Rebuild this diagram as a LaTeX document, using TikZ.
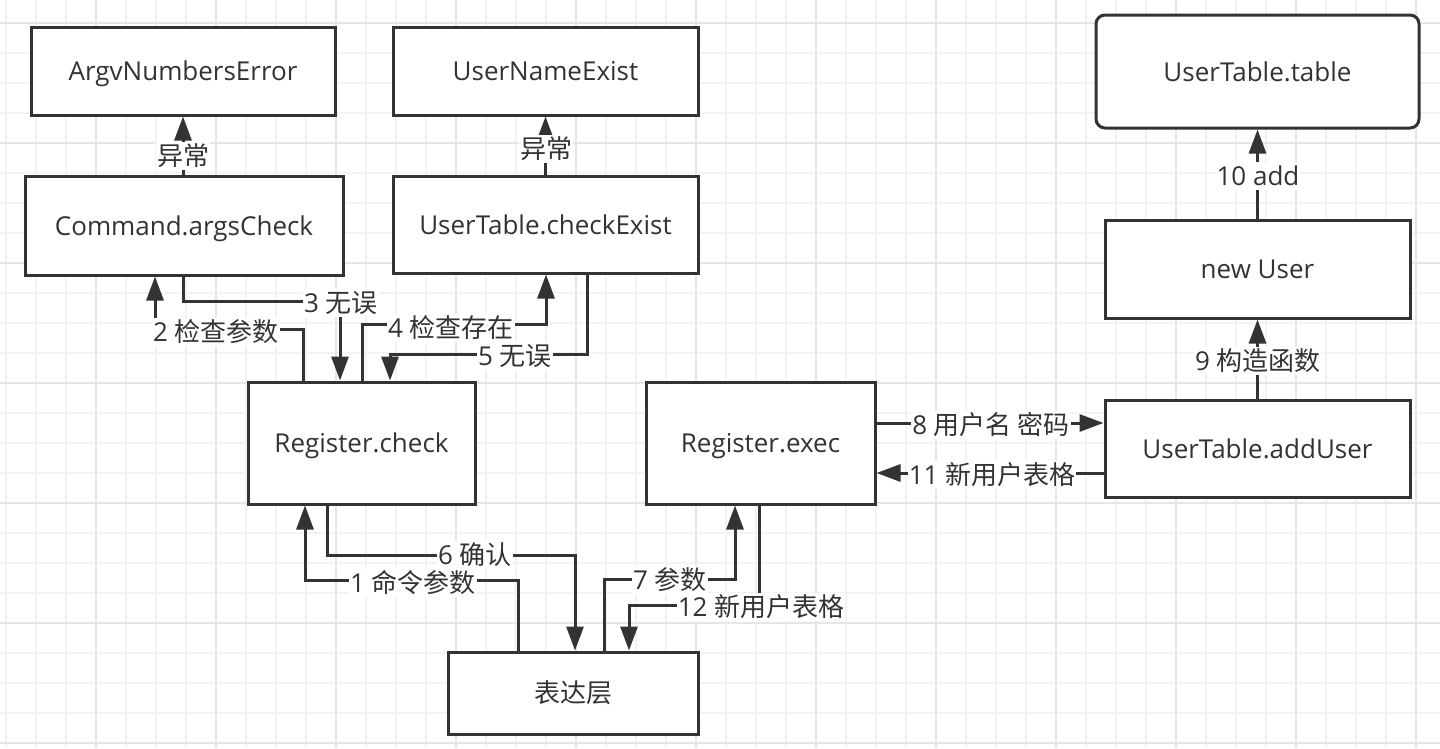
\documentclass[tikz,border=0pt]{standalone}
\usepackage{fontspec}
\setmainfont{Open Sans}
\newfontfamily\cjk{Noto Sans CJK SC}
\usetikzlibrary{arrows.meta}
\definecolor{ink}{HTML}{333333}
\definecolor{gminor}{HTML}{F3F3F3}
\definecolor{gmajor}{HTML}{E6E6E6}
\begin{document}
\begin{tikzpicture}[x=1pt,y=-1pt,
  box/.style={draw=ink,line width=3pt,fill=white,text=ink,inner sep=0pt,text height=22pt,text depth=3pt,font=\fontsize{26}{30}\selectfont},
  conn/.style={draw=ink,line width=3pt},
  arr/.style={conn,-{Triangle[length=24pt,width=17pt]}},
  lbl/.style={fill=white,text=ink,inner sep=0.8pt,text height=22pt,text depth=4pt,font=\fontsize{26}{30}\selectfont}]
\useasboundingbox (0,0) rectangle (1440,748);
\fill[white] (0,0) rectangle (1440,748);
% grid
\foreach \x in {6,36,...,1440} \draw[gminor,line width=2pt] (\x,0) -- (\x,748);
\foreach \y in {-7,23,...,748} \draw[gminor,line width=2pt] (0,\y) -- (1440,\y);
\foreach \x in {96,216,...,1440} \draw[gmajor,line width=2pt] (\x,0) -- (\x,748);
\foreach \y in {23,143,...,748} \draw[gmajor,line width=2pt] (0,\y) -- (1440,\y);
% nodes
\node[box,minimum width=304pt,minimum height=88pt] (argv) at (183,71) {ArgvNumbersError};
\node[box,minimum width=318pt,minimum height=99pt] (cmd) at (184,225.5) {Command.argsCheck};
\node[box,minimum width=305pt,minimum height=88pt] (une) at (545.5,71) {UserNameExist};
\node[box,minimum width=305pt,minimum height=97pt] (uce) at (545.5,224.5) {UserTable.checkExist};
\node[box,minimum width=227pt,minimum height=122pt] (rc) at (361.5,443) {Register.check};
\node[box,minimum width=229pt,minimum height=122pt] (re) at (760.5,443) {Register.exec};
\node[box,minimum width=305pt,minimum height=97pt] (add) at (1257.5,448.5) {UserTable.addUser};
\node[box,minimum width=305pt,minimum height=98pt] (nu) at (1257.5,269) {new User};
\node[box,rounded corners=9pt,minimum width=323pt,minimum height=113pt] (tbl) at (1257.5,71.5) {UserTable.table};
\node[box,minimum width=250pt,minimum height=82pt] (ui) at (573,693) {\cjk 表达层};
% connectors
\draw[arr] (argv.south |- cmd.north) -- (argv.south);
\draw[arr] (uce.north) -- (une.south);
\draw[arr] ([xshift=-58.5pt]rc.north) |- (155,329) -- ([xshift=-29pt]cmd.south);
\draw[arr] ([xshift=-1pt]cmd.south) |- (340,301) -- ([xshift=-21.5pt]rc.north);
\draw[arr] ([xshift=0.5pt]rc.north) |- (546,324) -- ([xshift=0.5pt]uce.south);
\draw[arr] ([xshift=41.5pt]uce.south) |- (390,354) -- ([xshift=28.5pt]rc.north);
\draw[arr] ([xshift=-55pt]ui.north) |- (305,580) -- ([xshift=-56.5pt]rc.south);
\draw[arr] ([xshift=-34.5pt]rc.south) |- (575,555) -- ([xshift=2pt]ui.north);
\draw[arr] ([xshift=31.5pt]ui.north) |- (735,579) -- ([xshift=-25.5pt]re.south);
\draw[arr] ([xshift=-1.5pt]re.south) |- (629,605) -- ([xshift=56pt]ui.north);
\draw[arr] ([yshift=20pt]re.east) -- ([yshift=20pt]re.east -| add.west);
\draw[arr] ([yshift=-30pt]re.east -| add.west) -- ([yshift=-30pt]re.east);
\draw[arr] (add.north) -- (nu.south);
\draw[arr] (nu.north) -- (tbl.south);
% labels
\node[lbl] (l0a) at (183,156) {\cjk 异常};
\node[lbl] (l0b) at (546,149) {\cjk 异常};
\node[lbl] (l2) at (216,332) {2 {\cjk 检查参数}};
\node[lbl] (l3) at (341,303) {3 {\cjk 无误}};
\node[lbl] (l4) at (451,328) {4 {\cjk 检查存在}};
\node[lbl] (l5) at (515,356) {5 {\cjk 无误}};
\node[lbl] (l6) at (475,555) {6 {\cjk 确认}};
\node[lbl] (l1) at (413,583) {1 {\cjk 命令参数}};
\node[lbl] (l7) at (670,580) {7 {\cjk 参数}};
\node[lbl] (l12) at (761,607) {12 {\cjk 新用户表格}};
\node[lbl] (l8) at (991,425) {8 {\cjk 用户名 密码}};
\node[lbl] (l11) at (992,475) {11 {\cjk 新用户表格}};
\node[lbl] (l9) at (1258,361) {9 {\cjk 构造函数}};
\node[lbl] (l10) at (1258,176) {10 add};
\end{tikzpicture}
\end{document}
